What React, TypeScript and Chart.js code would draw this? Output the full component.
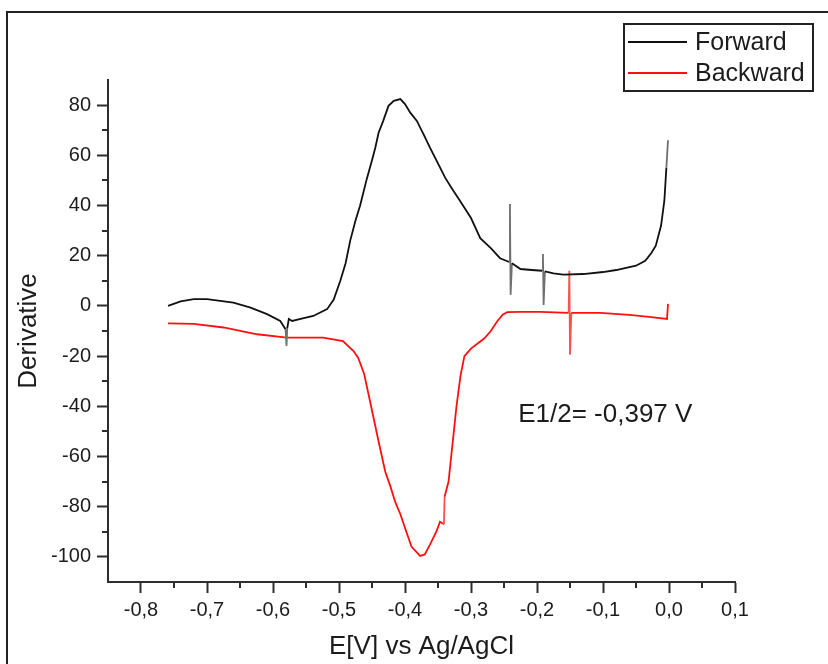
import React, { useEffect, useRef } from "react";
import { Chart, registerables } from "chart.js";

Chart.register(...registerables);

// ---- data ----
const seriesLabels = ["Forward", "Backward"];

const forwardE = [
  -0.759, -0.74, -0.72, -0.7, -0.68, -0.66, -0.634, -0.609, -0.589, -0.581,
  -0.5795, -0.5785, -0.576, -0.571, -0.555, -0.539, -0.518, -0.508, -0.498, -0.49,
  -0.483, -0.475, -0.468, -0.458, -0.45, -0.445, -0.44, -0.433, -0.425, -0.417,
  -0.407, -0.4, -0.392, -0.382, -0.372, -0.362, -0.352, -0.339, -0.327, -0.317,
  -0.3, -0.286, -0.27, -0.256, -0.242, -0.241, -0.24, -0.238, -0.225, -0.208,
  -0.192, -0.191, -0.19, -0.188, -0.175, -0.16, -0.13, -0.1, -0.08, -0.05,
  -0.036, -0.027, -0.02, -0.012, -0.007, -0.004, -0.0015,
];
const forwardD = [
  0, 1.8, 2.7, 2.7, 2.0, 1.3, -0.7, -3.3, -6, -9.3,
  -16, -9, -5.2, -6, -5, -4, -1.3, 2.5, 10, 17,
  26, 34, 40, 50.5, 58, 63, 69, 73.7, 79.7, 81.7,
  82.4, 80.4, 77, 73.7, 68.4, 63, 57.8, 51, 46, 42,
  35, 27, 23, 19, 17.5, 40.6, 4.4, 17, 14.7, 14.3,
  14, 20.7, 0.4, 13.8, 13, 12.5, 12.7, 13.5, 14.3, 16,
  18, 21, 24, 32, 42, 55, 66,
];

const backwardE = [
  -0.759, -0.72, -0.675, -0.624, -0.579, -0.524, -0.494, -0.478, -0.471, -0.462,
  -0.453, -0.44, -0.43, -0.422, -0.415, -0.407, -0.398, -0.39, -0.377, -0.37,
  -0.362, -0.352, -0.347, -0.341, -0.34, -0.334, -0.328, -0.322, -0.316, -0.31,
  -0.3, -0.29, -0.28, -0.27, -0.26, -0.252, -0.245, -0.225, -0.195, -0.152,
  -0.151, -0.15, -0.148, -0.104, -0.06, -0.03, -0.003, -0.0015,
];
const backwardD = [
  -7, -7.2, -8.6, -11.3, -12.6, -12.6, -14, -18, -20.6, -27,
  -38, -54, -66, -72, -78, -83, -90, -96, -99.6, -99,
  -95, -89.6, -86, -87, -76, -70, -55, -40, -28, -20,
  -17, -15, -13, -10, -6, -3.5, -2.5, -2.4, -2.4, -2.8,
  14, -19.5, -2.8, -2.8, -3.6, -4.4, -5.2, 0.8,
];

const xTicks = [-0.8, -0.7, -0.6, -0.5, -0.4, -0.3, -0.2, -0.1, 0.0, 0.1];
const xMinorTicks = [-0.75, -0.65, -0.55, -0.45, -0.35, -0.25, -0.15, -0.05, 0.05];
const yTicks = [-100, -80, -60, -40, -20, 0, 20, 40, 60, 80];
const yMinorTicks = [-90, -70, -50, -30, -10, 10, 30, 50, 70];

const xTitle = "E[V] vs Ag/AgCl";
const yTitle = "Derivative";
const annotationText = "E1/2= -0,397 V";
const annotationE = -0.2285;
const annotationD = -43.5;

const FONT = "'Liberation Sans', Arial, Helvetica, sans-serif";
const TEXT = "#1c1c1c";
const AXIS = "#2e2e2e";

// spike segments (near-vertical jumps) are drawn in a lighter tone, as in the reference
const spikeColor = (normal: string, light: string) => (c: any) => {
  const dx = Math.abs(c.p1.parsed.x - c.p0.parsed.x);
  const dy = Math.abs(c.p1.parsed.y - c.p0.parsed.y);
  return dx < 0.003 && dy > 6 ? light : normal;
};

const decorPlugin = {
  id: "decor",
  afterDraw(chart: any) {
    const ctx = chart.ctx as CanvasRenderingContext2D;
    const xs = chart.scales.x;
    const ys = chart.scales.y;
    const area = chart.chartArea;
    ctx.save();

    // outer frame (left + top edges visible)
    ctx.strokeStyle = "#222";
    ctx.lineWidth = 2;
    ctx.beginPath();
    ctx.moveTo(7, 680);
    ctx.lineTo(7, 12);
    ctx.lineTo(840, 12);
    ctx.stroke();

    // minor ticks
    ctx.strokeStyle = AXIS;
    ctx.lineWidth = 2;
    ctx.beginPath();
    for (const v of xMinorTicks) {
      const px = Math.round(xs.getPixelForValue(v));
      ctx.moveTo(px, area.bottom);
      ctx.lineTo(px, area.bottom + 6);
    }
    for (const v of yMinorTicks) {
      const py = Math.round(ys.getPixelForValue(v));
      ctx.moveTo(area.left, py);
      ctx.lineTo(area.left - 6, py);
    }
    ctx.stroke();

    // annotation
    ctx.fillStyle = TEXT;
    ctx.font = `26px ${FONT}`;
    ctx.textAlign = "left";
    ctx.textBaseline = "middle";
    ctx.fillText(annotationText, xs.getPixelForValue(annotationE), ys.getPixelForValue(annotationD));

    // legend box
    const bx = 624, by = 24, bw = 189, bh = 67;
    ctx.fillStyle = "#fff";
    ctx.fillRect(bx, by, bw, bh);
    ctx.strokeStyle = "#222";
    ctx.lineWidth = 2;
    ctx.strokeRect(bx, by, bw, bh);
    const rows = [42, 73];
    chart.data.datasets.forEach((ds: any, i: number) => {
      const y = rows[i];
      ctx.strokeStyle = ds.borderColor;
      ctx.lineWidth = 2;
      ctx.beginPath();
      ctx.moveTo(628, y);
      ctx.lineTo(687, y);
      ctx.stroke();
      ctx.fillStyle = TEXT;
      ctx.font = `25px ${FONT}`;
      ctx.textAlign = "left";
      ctx.textBaseline = "middle";
      ctx.fillText(ds.label, 695, y + 1);
    });

    ctx.restore();
  },
};

export default function App() {
  const ref = useRef<HTMLCanvasElement | null>(null);

  useEffect(() => {
    if (!ref.current) return;
    const forward = forwardE.map((e, i) => ({ x: e, y: forwardD[i] }));
    const backward = backwardE.map((e, i) => ({ x: e, y: backwardD[i] }));

    const chart = new Chart(ref.current, {
      type: "scatter",
      data: {
        datasets: [
          {
            label: seriesLabels[0],
            data: forward,
            showLine: true,
            borderColor: "#111111",
            backgroundColor: "#111111",
            borderWidth: 1.8,
            pointRadius: 0,
            tension: 0,
            segment: { borderColor: spikeColor("#111111", "#707070"), borderWidth: 1.8 },
          },
          {
            label: seriesLabels[1],
            data: backward,
            showLine: true,
            borderColor: "#ff1010",
            backgroundColor: "#ff1010",
            borderWidth: 1.8,
            pointRadius: 0,
            tension: 0,
            segment: { borderColor: spikeColor("#ff1010", "#ff5050") },
          },
        ],
      },
      options: {
        animation: false,
        responsive: false,
        devicePixelRatio: 1,
        layout: { padding: { left: 0, right: 93, top: 80, bottom: 0 } },
        plugins: {
          legend: { display: false },
          tooltip: { enabled: false },
          title: { display: false },
        },
        scales: {
          x: {
            type: "linear",
            position: "bottom",
            min: -0.85,
            max: 0.1,
            afterFit: (s: any) => {
              s.height = 82;
            },
            afterBuildTicks: (s: any) => {
              s.ticks = xTicks.map((v) => ({ value: v }));
            },
            ticks: {
              autoSkip: false,
              maxRotation: 0,
              padding: 5,
              color: TEXT,
              font: { family: FONT, size: 20 },
              callback: (v: any) => Number(v).toFixed(1).replace(".", ","),
            },
            grid: {
              drawOnChartArea: false,
              drawTicks: true,
              tickLength: 11,
              tickWidth: 2,
              tickColor: AXIS,
            },
            border: { display: true, color: AXIS, width: 2 },
            title: {
              display: true,
              text: xTitle,
              color: TEXT,
              font: { family: FONT, size: 26 },
              padding: { top: 0, bottom: 1.5 },
            },
          },
          y: {
            type: "linear",
            position: "left",
            min: -110,
            max: 90,
            afterFit: (s: any) => {
              s.width = 108;
            },
            afterBuildTicks: (s: any) => {
              s.ticks = yTicks.map((v) => ({ value: v }));
            },
            ticks: {
              autoSkip: false,
              padding: 6,
              color: TEXT,
              font: { family: FONT, size: 20 },
              callback: (v: any) => String(v),
            },
            grid: {
              drawOnChartArea: false,
              drawTicks: true,
              tickLength: 11,
              tickWidth: 2,
              tickColor: AXIS,
            },
            border: { display: true, color: AXIS, width: 2 },
            title: {
              display: true,
              text: yTitle,
              color: TEXT,
              font: { family: FONT, size: 26 },
              padding: { top: 13.4, bottom: 0 },
            },
          },
        },
      },
      plugins: [decorPlugin],
    });

    return () => chart.destroy();
  }, []);

  return (
    <div style={{ position: "absolute", left: 0, top: 0, width: 828, height: 664, background: "#fff" }}>
      <canvas ref={ref} width={828} height={664} style={{ display: "block" }} />
    </div>
  );
}
